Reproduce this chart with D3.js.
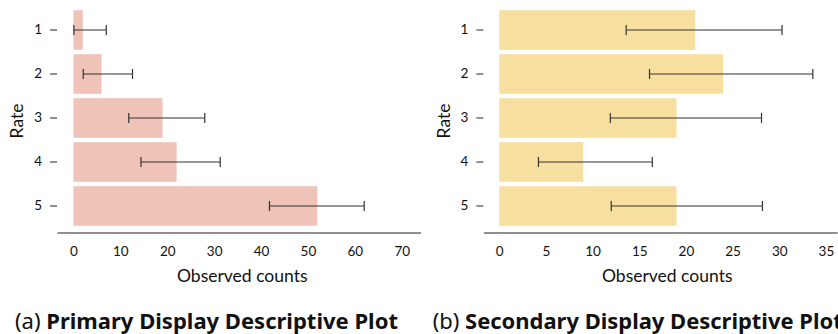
<!DOCTYPE html>
<html>
<head>
<meta charset="utf-8">
<script src="https://cdn.jsdelivr.net/npm/d3@7"></script>
<style>
  body { margin: 0; background: #fff; }
  svg { display: block; }
  .tick text { font-family: Lato, sans-serif; font-size: 13.5px; fill: #111; }
  .lbl { font-family: Lato, sans-serif; font-size: 17.5px; fill: #111; }
  .cap { font-family: "Noto Sans", sans-serif; font-size: 22px; fill: #111; }
</style>
</head>
<body>
<svg width="838" height="334"></svg>
<script>
var rates = ['1', '2', '3', '4', '5'];

// primary display
var primaryCounts = [2, 6, 19, 22, 52];
var primaryLow = [0.1, 2.1, 11.8, 14.4, 41.8];
var primaryHigh = [7.0, 12.6, 28.0, 31.3, 62.0];
var primaryTicks = [0, 10, 20, 30, 40, 50, 60, 70];

// secondary display
var secondaryCounts = [21, 24, 19, 9, 19];
var secondaryLow = [13.6, 16.1, 11.9, 4.2, 12.0];
var secondaryHigh = [30.3, 33.6, 28.1, 16.4, 28.2];
var secondaryTicks = [0, 5, 10, 15, 20, 25, 30, 35];

var svg = d3.select('svg');

function panel(opts) {
    var g = svg.append('g');

    var x = d3.scaleLinear().domain(opts.domain).range(opts.range);
    var y = d3.scaleBand().domain(rates).range([8, 228])
        .paddingInner(0.1).paddingOuter(0.05);

    var rows = rates.map(function(r, i) {
        return {rate: r, value: opts.counts[i], lo: opts.low[i], hi: opts.high[i]};
    });

    g.selectAll('.bar')
        .data(rows)
        .enter()
        .append('rect')
        .attr('class', 'bar')
        .attr('x', x(0))
        .attr('y', function(d) { return y(d.rate); })
        .attr('width', function(d) { return x(d.value) - x(0); })
        .attr('height', y.bandwidth())
        .style('fill', opts.color);

    // error bars
    var err = g.selectAll('.err')
        .data(rows)
        .enter()
        .append('g')
        .attr('class', 'err')
        .attr('transform', function(d) {
            return 'translate(0,' + (y(d.rate) + y.bandwidth() / 2) + ')';
        })
        .style('stroke', '#333')
        .style('stroke-width', 1.2);
    err.append('line')
        .attr('x1', function(d) { return x(d.lo); })
        .attr('x2', function(d) { return x(d.hi); });
    err.append('line')
        .attr('x1', function(d) { return x(d.lo); })
        .attr('x2', function(d) { return x(d.lo); })
        .attr('y1', -5).attr('y2', 5);
    err.append('line')
        .attr('x1', function(d) { return x(d.hi); })
        .attr('x2', function(d) { return x(d.hi); })
        .attr('y1', -5).attr('y2', 5);

    // x axis
    var xAxis = g.append('g')
        .attr('transform', 'translate(0,232.5)')
        .call(d3.axisBottom(x).tickValues(opts.ticks).tickSize(0).tickPadding(14));
    xAxis.select('.domain').attr('stroke', '#222').attr('stroke-width', 1.2);

    // y axis
    var yAxis = g.append('g')
        .attr('transform', 'translate(' + opts.range[0] + ',0)')
        .call(d3.axisLeft(y).tickSize(7).tickPadding(8));
    yAxis.select('.domain').remove();
    yAxis.selectAll('.tick line').attr('stroke', '#222');

    g.append('text')
        .attr('class', 'lbl')
        .attr('x', x(opts.labelAt))
        .attr('y', 282)
        .attr('text-anchor', 'middle')
        .text('Observed counts');

    g.append('text')
        .attr('class', 'lbl')
        .attr('transform', 'translate(' + (opts.range[0] - 40) + ',121) rotate(-90)')
        .attr('text-anchor', 'middle')
        .attr('dy', '0.35em')
        .text('Rate');

    var cap = g.append('text')
        .attr('class', 'cap')
        .attr('x', opts.capX)
        .attr('y', 329)
        .attr('textLength', opts.capLen)
        .attr('lengthAdjust', 'spacingAndGlyphs');
    cap.append('tspan').text(opts.capTag + ' ');
    cap.append('tspan').style('font-weight', 'bold').text(opts.caption);
}

panel({
    counts: primaryCounts, low: primaryLow, high: primaryHigh, ticks: primaryTicks,
    domain: [-3.5, 74], range: [57, 420.5], color: '#efc3b8', labelAt: 36,
    capX: 15, capLen: 383, capTag: '(a)', caption: 'Primary Display Descriptive Plot'
});

panel({
    counts: secondaryCounts, low: secondaryLow, high: secondaryHigh, ticks: secondaryTicks,
    domain: [-1.7, 36.2], range: [483.4, 837.1], color: '#f7dfa0', labelAt: 18,
    capX: 432.7, capLen: 410, capTag: '(b)', caption: 'Secondary Display Descriptive Plot'
});
</script>
</body>
</html>
